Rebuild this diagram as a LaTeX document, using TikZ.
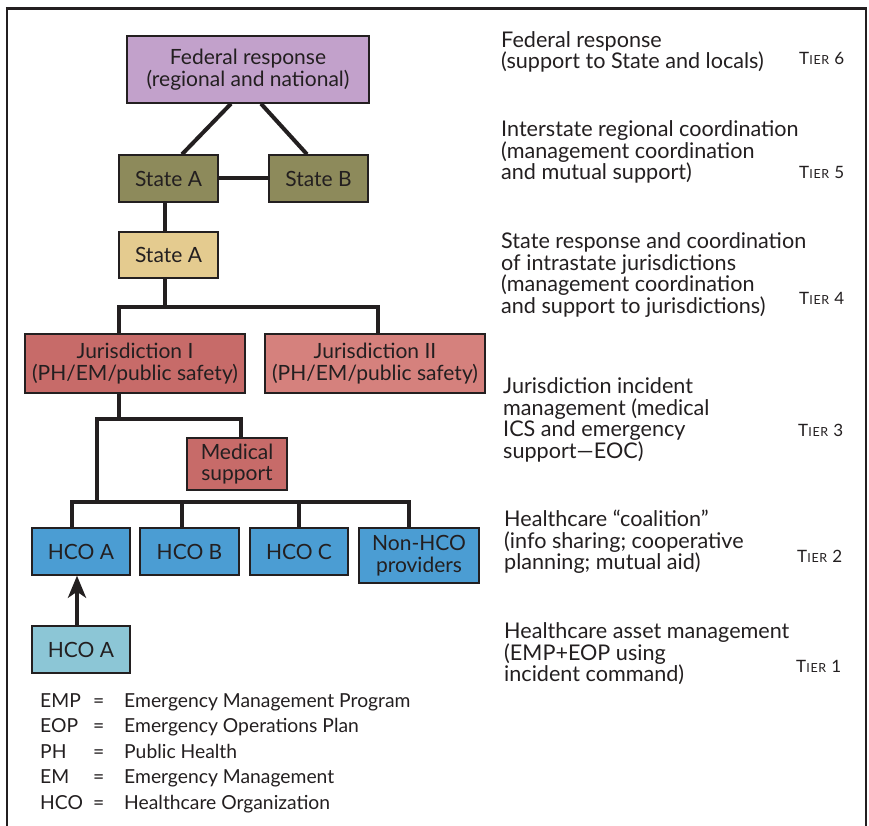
\documentclass[tikz,border=0pt]{standalone}
\usepackage{fontspec}
\setmainfont{Lato}
\usetikzlibrary{arrows.meta}
\definecolor{fedc}{HTML}{C2A1CB}
\definecolor{olivec}{HTML}{8D8A5B}
\definecolor{tanc}{HTML}{E4CB8F}
\definecolor{jurac}{HTML}{C76B69}
\definecolor{jurbc}{HTML}{D5817D}
\definecolor{hcoc}{HTML}{4B9DD3}
\definecolor{hcolc}{HTML}{8CC6D6}
\definecolor{inkc}{HTML}{231F20}
\newcommand\mainf{\fontsize{21}{21.5}\selectfont}
\newcommand\rightf{\fontsize{21.6}{21.5}\selectfont}
\newcommand\legf{\fontsize{19.3}{25.5}\selectfont}
\newcommand\tierlab[1]{{\fontsize{17}{17}\selectfont T\fontsize{12.5}{13}\selectfont\addfontfeature{LetterSpace=6}IER\hspace{5pt}\fontsize{17}{17}\selectfont #1}}
\newcommand\legrow[2]{\makebox[53pt][l]{#1}\makebox[31pt][l]{=}#2}
\tikzset{
  box/.style={draw=inkc, line width=1.4pt, inner sep=0pt, align=center, font=\mainf, text=inkc},
  conn/.style={draw=inkc, line width=4pt, line join=miter},
  rtext/.style={anchor=west, align=left, inner sep=0pt, font=\rightf, text=inkc},
  tier/.style={anchor=west, inner sep=0pt, text=inkc},
}
\begin{document}
\begin{tikzpicture}[x=1pt,y=-1pt]
\useasboundingbox (0,0) rectangle (869,826);
\fill[white] (0,0) rectangle (869,826);
% frame
\draw[inkc, line width=2.5pt] (7,826) -- (7,9);
\draw[inkc, line width=3pt] (5.75,9) -- (866,9);
\draw[inkc, line width=1.5pt] (866,7.5) -- (866,826);
% boxes
\node[box, fill=fedc, minimum width=242pt, minimum height=67pt] (fed) at (248,69.5) {Federal response\\(regional and national)};
\node[box, fill=olivec, minimum width=99pt, minimum height=47pt] (sa1) at (168.5,178.5) {State A};
\node[box, fill=olivec, minimum width=99pt, minimum height=47pt] (sb) at (318.5,178.5) {State B};
\node[box, fill=tanc, minimum width=99pt, minimum height=46pt] (sa2) at (168.5,255) {State A};
\node[box, fill=jurac, minimum width=220pt, minimum height=59pt] (j1) at (135,363.5) {Jurisdiction I\\(PH/EM/public safety)};
\node[box, fill=jurbc, minimum width=220pt, minimum height=59pt] (j2) at (375,363.5) {Jurisdiction II\\(PH/EM/public safety)};
\node[box, fill=jurac, minimum width=100pt, minimum height=52pt] (med) at (237,464) {Medical\\support};
\node[box, fill=hcoc, minimum width=98pt, minimum height=47pt] (hA) at (81,551.5) {HCO A};
\node[box, fill=hcoc, minimum width=99pt, minimum height=47pt] (hB) at (189.5,551.5) {HCO B};
\node[box, fill=hcoc, minimum width=98pt, minimum height=47pt] (hC) at (299,551.5) {HCO C};
\node[box, fill=hcoc, minimum width=120pt, minimum height=55pt] (nh) at (419,555.5) {Non-HCO\\providers};
\node[box, fill=hcolc, minimum width=98pt, minimum height=47pt] (hA2) at (81,649.5) {HCO A};
% bus points
\coordinate (b1) at (165,307);
\coordinate (b2) at (119,419);
\coordinate (b2l) at (97,419);
\coordinate (b3) at (97,502);
% connectors
\draw[conn] ([xshift=-17pt]fed.south) -- ([xshift=13.5pt]sa1.north);
\draw[conn] ([xshift=13pt]fed.south) -- ([xshift=-11.5pt]sb.north);
\draw[conn] (sa1.east) -- (sb.west);
\draw[conn] ([xshift=-3.5pt]sa1.south) -- ([xshift=-3.5pt]sa2.north);
\draw[conn] ([xshift=-3.5pt]sa2.south) -- (b1);
\draw[conn] ([xshift=-16pt]j1.north) |- (b1) -| ([xshift=3pt]j2.north);
\draw[conn] ([xshift=-16pt]j1.south) -- (b2);
\draw[conn] ([xshift=4pt]med.north) |- (b2l) -- (b3);
\draw[conn] ([xshift=-9pt]hA.north) |- (b3) -| ([xshift=-10pt]nh.north);
\draw[conn] ([xshift=-7.5pt]hB.north) |- (b3);
\draw[conn] (hC.north) |- (b3);
\draw[conn, -{Stealth[length=22pt,width=18pt,inset=6pt]}] ([xshift=-4pt]hA2.north) -- ([xshift=-4pt]hA.south);
% right column
\node[rtext] (t6) at (501,52) {Federal response\\(support to State and locals)};
\node[rtext] (t5) at (501,152) {Interstate regional coordination\\(management coordination\\and mutual support)};
\node[rtext] (t4) at (501,275) {State response and coordination\\of intrastate jurisdictions\\(management coordination\\and support to jurisdictions)};
\node[rtext] (t3) at (503,420) {Jurisdiction incident\\management (medical\\ICS and emergency\\support—EOC)};
\node[rtext] (t2) at (504,542) {Healthcare “coalition”\\(info sharing; cooperative\\planning; mutual aid)};
\node[rtext] (t1) at (504,654) {Healthcare asset management\\(EMP+EOP using\\incident command)};
\node[tier] (r6) at (799,58) {\tierlab{6}};
\node[tier] (r5) at (799,172) {\tierlab{5}};
\node[tier] (r4) at (799,298) {\tierlab{4}};
\node[tier] (r3) at (798,430) {\tierlab{3}};
\node[tier] (r2) at (797,556) {\tierlab{2}};
\node[tier] (r1) at (796,666) {\tierlab{1}};
% legend
\node[anchor=west, inner sep=0pt, align=left, font=\legf, text=inkc] (leg) at (40,753) {\legrow{EMP}{Emergency Management Program}\\\legrow{EOP}{Emergency Operations Plan}\\\legrow{PH}{Public Health}\\\legrow{EM}{Emergency Management}\\\legrow{HCO}{Healthcare Organization}};
\end{tikzpicture}
\end{document}
